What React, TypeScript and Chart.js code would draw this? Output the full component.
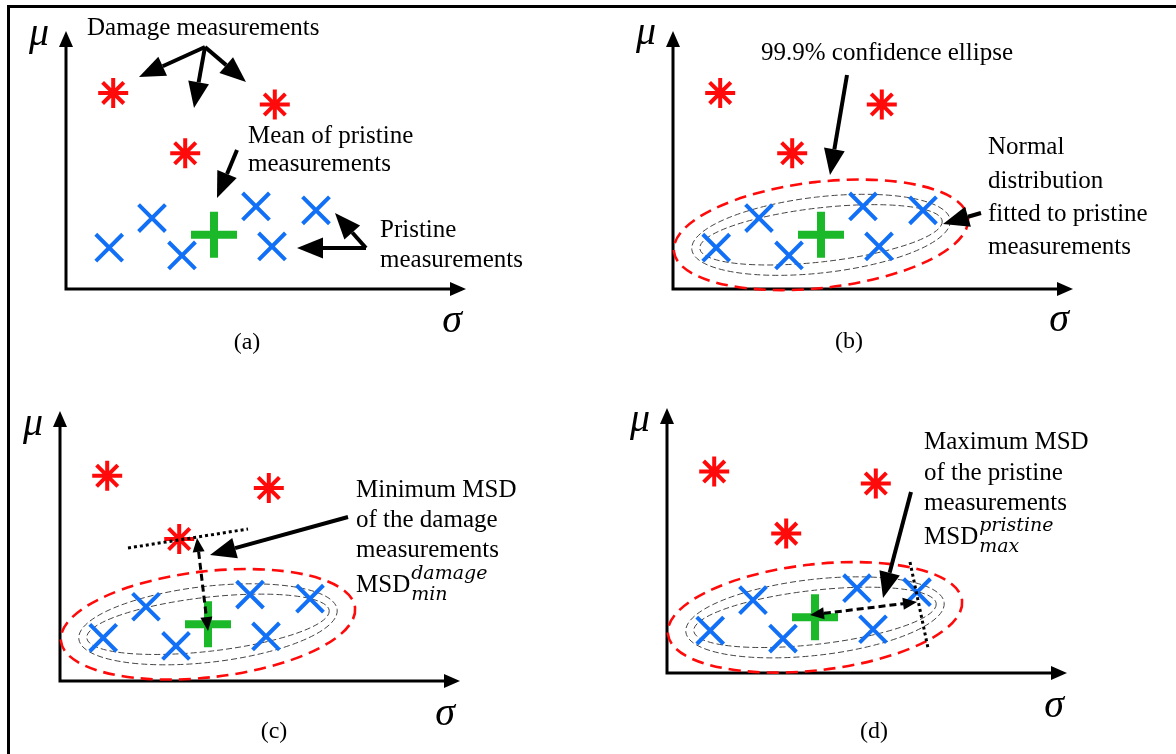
import React, { useEffect, useRef } from "react";
import { Chart, registerables } from "chart.js";

Chart.register(...registerables);

// ---- data (arbitrary sigma / mu units, axes span 0..10) ----
const damageSigma = [1.18, 5.22, 2.98];
const damageMu = [7.6, 7.15, 5.26];
const pristineSigma = [1.08, 2.15, 2.9, 4.75, 6.25, 5.15];
const pristineMu = [1.6, 2.75, 1.3, 3.2, 3.05, 1.65];
const meanSigma = [3.7];
const meanMu = [2.1];
const panelLabels = ["(a)", "(b)", "(c)", "(d)"];

const FONT = '"Liberation Serif", "Times New Roman", serif';
const RED = "#ff0a0a";
const BLUE = "#1170f5";
const GREEN = "#1bb82a";

type Txt = { t: string; x: number; y: number; sup?: string; sub?: string };
type Panel = {
  left: number;
  top: number;
  pad: { left: number; top: number; right: number; bottom: number };
  mu: [number, number];
  sigma: [number, number];
  label: [number, number];
  ellipses: boolean;
  texts: Txt[];
  arrows: number[][];
  dotted: number[][];
  dbl: number[][];
};

const panels: Panel[] = [
  {
    left: 0, top: 0,
    pad: { left: 66, top: 19, right: 122, bottom: 88 },
    mu: [-27, 255], sigma: [386, -32], label: [181, -54],
    ellipses: false,
    texts: [
      { t: "Damage measurements", x: 21, y: 261 },
      { t: "Mean of pristine", x: 182, y: 153 },
      { t: "measurements", x: 182, y: 125 },
      { t: "Pristine", x: 314, y: 59 },
      { t: "measurements", x: 314, y: 29 },
    ],
    arrows: [
      [139, 242, 73, 212],
      [139, 242, 128, 181],
      [139, 242, 180, 207],
      [171, 139, 151, 91],
      [300, 41, 269, 76],
      [300, 41, 231, 41],
    ],
    dotted: [],
    dbl: [],
  },
  {
    left: 588, top: 0,
    pad: { left: 85, top: 21, right: 103, bottom: 88 },
    mu: [-27, 256], sigma: [386, -31], label: [176, -53],
    ellipses: true,
    texts: [
      { t: "99.9% confidence ellipse", x: 88, y: 236 },
      { t: "Normal", x: 315, y: 142 },
      { t: "distribution", x: 315, y: 108 },
      { t: "fitted to pristine", x: 315, y: 75 },
      { t: "measurements", x: 315, y: 42 },
    ],
    arrows: [
      [174, 214, 157, 114],
      [308, 76, 270, 65],
    ],
    dotted: [],
    dbl: [],
  },
  {
    left: 0, top: 377,
    pad: { left: 60, top: 34, right: 128, bottom: 73 },
    mu: [-27, 257], sigma: [385, -33], label: [214, -51],
    ellipses: true,
    texts: [
      { t: "Minimum MSD", x: 296, y: 191 },
      { t: "of the damage", x: 296, y: 161 },
      { t: "measurements", x: 296, y: 131 },
      { t: "MSD", x: 296, y: 96, sup: "damage", sub: "min" },
    ],
    arrows: [[288, 164, 150, 126]],
    dotted: [[68, 133, 188, 152]],
    dbl: [[137, 143, 148, 50]],
  },
  {
    left: 588, top: 377,
    pad: { left: 79, top: 26, right: 109, bottom: 81 },
    mu: [-27, 253], sigma: [387, -33], label: [207, -59],
    ellipses: true,
    texts: [
      { t: "Maximum MSD", x: 257, y: 231 },
      { t: "of the pristine", x: 257, y: 200 },
      { t: "measurements", x: 257, y: 170 },
      { t: "MSD", x: 257, y: 136, sup: "pristine", sub: "max" },
    ],
    arrows: [[244, 181, 216, 75]],
    dotted: [[243, 111, 261, 25]],
    dbl: [[143, 58, 250, 71]],
  },
];

function head(ctx: CanvasRenderingContext2D, x1: number, y1: number, x2: number, y2: number, hl: number, hw: number) {
  const a = Math.atan2(y2 - y1, x2 - x1);
  const bx = x2 - hl * Math.cos(a);
  const by = y2 - hl * Math.sin(a);
  ctx.beginPath();
  ctx.moveTo(x2, y2);
  ctx.lineTo(bx + (hw / 2) * Math.sin(a), by - (hw / 2) * Math.cos(a));
  ctx.lineTo(bx - (hw / 2) * Math.sin(a), by + (hw / 2) * Math.cos(a));
  ctx.closePath();
  ctx.fill();
  return [bx, by];
}

function arrow(ctx: CanvasRenderingContext2D, x1: number, y1: number, x2: number, y2: number, lw: number, hl: number, hw: number) {
  ctx.save();
  ctx.fillStyle = "#000";
  ctx.strokeStyle = "#000";
  const [bx, by] = head(ctx, x1, y1, x2, y2, hl, hw);
  ctx.lineWidth = lw;
  ctx.beginPath();
  ctx.moveTo(x1, y1);
  ctx.lineTo(bx, by);
  ctx.stroke();
  ctx.restore();
}

function makePlugin(p: Panel, idx: number) {
  return {
    id: "deco" + idx,
    beforeDatasetsDraw(chart: any) {
      const ctx: CanvasRenderingContext2D = chart.ctx;
      const { left, right, top, bottom } = chart.chartArea;
      ctx.save();
      // axes
      ctx.fillStyle = "#000";
      ctx.strokeStyle = "#000";
      ctx.lineWidth = 3;
      ctx.beginPath();
      ctx.moveTo(left, bottom + 1.5);
      ctx.lineTo(left, top + 14);
      ctx.moveTo(left - 1.5, bottom);
      ctx.lineTo(right - 14, bottom);
      ctx.stroke();
      head(ctx, left, bottom, left, top, 16, 14);
      head(ctx, left, bottom, right, bottom, 16, 14);

      if (p.ellipses) {
        const cx = chart.scales.x.getPixelForValue(meanSigma[0]);
        const cy = chart.scales.y.getPixelForValue(meanMu[0]);
        const rot = -6.5 * Math.PI / 180;
        const ells = [
          { a: 148, b: 53, c: RED, lw: 2.6, d: [12, 7] },
          { a: 130, b: 38, c: "#444", lw: 1, d: [6, 3] },
          { a: 122, b: 27, c: "#444", lw: 1, d: [6, 3] },
        ];
        for (const e of ells) {
          ctx.beginPath();
          ctx.ellipse(cx, cy, e.a, e.b, rot, 0, Math.PI * 2);
          ctx.strokeStyle = e.c;
          ctx.lineWidth = e.lw;
          ctx.setLineDash(e.d);
          ctx.stroke();
        }
        ctx.setLineDash([]);
      }
      ctx.restore();
    },
    afterDatasetsDraw(chart: any) {
      const ctx: CanvasRenderingContext2D = chart.ctx;
      const { left, bottom } = chart.chartArea;
      const X = (dx: number) => left + dx;
      const Y = (dy: number) => bottom - dy;
      ctx.save();
      ctx.fillStyle = "#000";
      ctx.textBaseline = "middle";
      // axis symbols
      ctx.font = "italic 40px " + FONT;
      ctx.textAlign = "center";
      ctx.fillText("μ", X(p.mu[0]), Y(p.mu[1]));
      ctx.fillText("σ", X(p.sigma[0]), Y(p.sigma[1]));
      ctx.font = "24px " + FONT;
      ctx.fillText(panelLabels[idx], X(p.label[0]), Y(p.label[1]));
      // texts
      ctx.textAlign = "left";
      for (const t of p.texts) {
        ctx.font = "25px " + FONT;
        ctx.fillText(t.t, X(t.x), Y(t.y));
        if (t.sup) {
          const w = ctx.measureText(t.t).width;
          ctx.font = 'italic 19px "DejaVu Serif", serif';
          ctx.fillText(t.sup, X(t.x) + w + 1, Y(t.y) - 11);
          ctx.fillText(t.sub || "", X(t.x) + w + 1, Y(t.y) + 10);
        }
      }
      // arrows
      for (const a of p.arrows) {
        arrow(ctx, X(a[0]), Y(a[1]), X(a[2]), Y(a[3]), 4, 26, 21);
      }
      // dotted lines
      for (const d of p.dotted) {
        ctx.save();
        ctx.strokeStyle = "#000";
        ctx.lineWidth = 3;
        ctx.setLineDash([3, 3]);
        ctx.beginPath();
        ctx.moveTo(X(d[0]), Y(d[1]));
        ctx.lineTo(X(d[2]), Y(d[3]));
        ctx.stroke();
        ctx.restore();
      }
      // dashed double arrows
      for (const d of p.dbl) {
        const x1 = X(d[0]), y1 = Y(d[1]), x2 = X(d[2]), y2 = Y(d[3]);
        ctx.save();
        ctx.fillStyle = "#000";
        ctx.strokeStyle = "#000";
        const [bx2, by2] = head(ctx, x1, y1, x2, y2, 14, 12);
        const [bx1, by1] = head(ctx, x2, y2, x1, y1, 14, 12);
        ctx.lineWidth = 3;
        ctx.setLineDash([7, 4]);
        ctx.beginPath();
        ctx.moveTo(bx1, by1);
        ctx.lineTo(bx2, by2);
        ctx.stroke();
        ctx.restore();
      }
      ctx.restore();
    },
  };
}

function PanelChart({ p, idx }: { p: Panel; idx: number }) {
  const ref = useRef<HTMLCanvasElement | null>(null);
  useEffect(() => {
    if (!ref.current) return;
    const chart = new Chart(ref.current, {
      type: "scatter",
      data: {
        datasets: [
          {
            label: "Damage measurements",
            data: damageSigma.map((x, i) => ({ x, y: damageMu[i] })),
            pointStyle: "star",
            pointRadius: 15,
            pointBorderWidth: 4,
            pointBorderColor: RED,
            pointBackgroundColor: RED,
            clip: false,
          },
          {
            label: "Pristine measurements",
            data: pristineSigma.map((x, i) => ({ x, y: pristineMu[i] })),
            pointStyle: "crossRot",
            pointRadius: 19,
            pointBorderWidth: 4,
            pointBorderColor: BLUE,
            pointBackgroundColor: BLUE,
            clip: false,
          },
          {
            label: "Mean of pristine measurements",
            data: meanSigma.map((x, i) => ({ x, y: meanMu[i] })),
            pointStyle: "cross",
            pointRadius: 23,
            pointBorderWidth: 8,
            pointBorderColor: GREEN,
            pointBackgroundColor: GREEN,
            clip: false,
          },
        ] as any,
      },
      options: {
        animation: false,
        responsive: false,
        devicePixelRatio: 1,
        layout: { padding: p.pad },
        scales: {
          x: { type: "linear", min: 0, max: 10, display: false },
          y: { type: "linear", min: 0, max: 10, display: false },
        },
        plugins: { legend: { display: false }, tooltip: { enabled: false } },
        events: [],
      },
      plugins: [makePlugin(p, idx)],
    });
    return () => chart.destroy();
  }, [p, idx]);
  return (
    <canvas
      ref={ref}
      width={588}
      height={377}
      style={{ position: "absolute", left: p.left, top: p.top, width: 588, height: 377 }}
    />
  );
}

export default function App() {
  return (
    <div style={{ position: "fixed", left: 0, top: 0, width: 1176, height: 754, background: "#fff", overflow: "hidden" }}>
      {panels.map((p, i) => (
        <PanelChart key={i} p={p} idx={i} />
      ))}
      <div style={{ position: "absolute", left: 7, top: 5, width: 1169, height: 749, borderTop: "3px solid #000", borderLeft: "3px solid #000", boxSizing: "border-box", pointerEvents: "none" }} />
    </div>
  );
}
